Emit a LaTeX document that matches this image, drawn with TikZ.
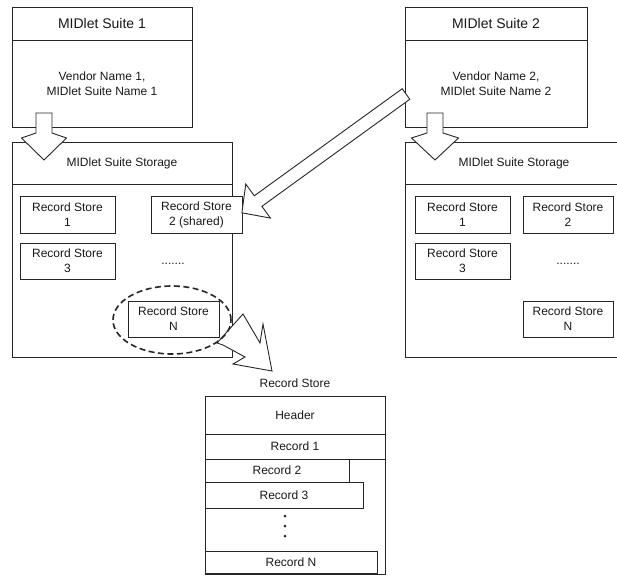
\documentclass[tikz,border=0pt]{standalone}
\usepackage{fontspec}
\setmainfont{Liberation Sans}
\usetikzlibrary{shapes.geometric}

\tikzset{
  box/.style={draw=black!85, line width=0.9pt, fill=white, inner sep=0pt,
    align=center, text=black!90, font=\fontsize{12}{15}\selectfont},
  titlebox/.style={box, font=\fontsize{14}{17}\selectfont},
  storebox/.style={box, minimum height=37pt},
  recbox/.style={box},
  blockarr/.style={draw=black!85, line width=0.9pt, fill=white, line join=miter},
  selring/.style={draw=black!85, ellipse, dash pattern=on 6pt off 3.5pt,
    line width=1.6pt, minimum width=118pt, minimum height=68pt, inner sep=0pt},
  plain/.style={inner sep=0pt, text=black!90, font=\fontsize{12}{15}\selectfont},
}

% tail, angle, length, head length, shaft half width, head half width, indent
\newcommand{\blockarrow}[7]{%
  \begin{scope}[shift={#1}, rotate=#2]
    \draw[blockarr] (0,#5) -- ({#3-#4+#7},#5) -- ({#3-#4},#6) -- (#3,0)
      -- ({#3-#4},-#6) -- ({#3-#4+#7},-#5) -- (0,-#5) -- cycle;
  \end{scope}}

\begin{document}
\begin{tikzpicture}[x=1pt, y=-1pt]
  \useasboundingbox (0,0) rectangle (617,576);
  \clip (0,0) rectangle (617,576);

  % MIDlet suites
  \node[titlebox, minimum width=180pt, minimum height=33pt] (suite1) at (102,23.5) {MIDlet Suite 1};
  \node[box, minimum width=180pt, minimum height=87pt] (name1) at (102,83.5) {Vendor Name 1,\\MIDlet Suite Name 1};
  \node[titlebox, minimum width=182pt, minimum height=33pt] (suite2) at (496,23.5) {MIDlet Suite 2};
  \node[box, minimum width=182pt, minimum height=87pt] (name2) at (496,83.5) {Vendor Name 2,\\MIDlet Suite Name 2};

  % storages
  \node[box, minimum width=220pt, minimum height=42pt] (stor1) at (122,163) {MIDlet Suite Storage};
  \node[box, minimum width=220pt, minimum height=173pt] (area1) at (122,270.5) {};
  \node[box, minimum width=218pt, minimum height=42pt] (stor2) at (514,163) {MIDlet Suite Storage};
  \node[box, minimum width=218pt, minimum height=173pt] (area2) at (514,270.5) {};

  % record stores, suite 1
  \node[storebox, minimum width=95pt] (rsa1) at (67.5,214.5) {Record Store\\1};
  \node[storebox, minimum width=91pt] (rsa2) at (196.5,214.5) {Record Store\\2 (shared)};
  \node[storebox, minimum width=95pt, minimum height=36pt] (rsa3) at (67.5,261) {Record Store\\3};
  \node[plain] (dotsa) at (173,264) {.......};
  \node[storebox, minimum width=91pt, minimum height=36pt] (rsaN) at (173.5,319) {Record Store\\N};

  % record stores, suite 2
  \node[storebox, minimum width=95pt] (rsb1) at (462.5,214.5) {Record Store\\1};
  \node[storebox, minimum width=90pt] (rsb2) at (568,214.5) {Record Store\\2};
  \node[storebox, minimum width=95pt, minimum height=36pt] (rsb3) at (462.5,261) {Record Store\\3};
  \node[plain] (dotsb) at (568,264) {.......};
  \node[storebox, minimum width=90pt, minimum height=36pt] (rsbN) at (568,319) {Record Store\\N};

  % record store layout
  \node[plain] (rslabel) at (295,383) {Record Store};
  \node[recbox, minimum width=180pt, minimum height=178pt] (rsbody) at (295,485) {};
  \node[recbox, minimum width=180pt, minimum height=38pt] (header) at (295,415) {Header};
  \node[recbox, minimum width=180pt, minimum height=25pt] (rec1) at (295,446.5) {Record 1};
  \node[recbox, minimum width=144pt, minimum height=23pt] (rec2) at (277,470.5) {Record 2};
  \node[recbox, minimum width=158pt, minimum height=26pt] (rec3) at (284,495) {Record 3};
  \node[recbox, minimum width=172pt, minimum height=22pt] (recN) at (291,562) {Record N};
  \foreach \y in {516,526,536}
    \fill[black!85] (285,\y) circle (1.5pt);

  % block arrows
  \blockarrow{(44,113)}{-90}{47}{22}{8}{22.5}{-5}
  \blockarrow{(435,113)}{-90}{47}{22}{8}{23.5}{-5}
  \blockarrow{(406,94)}{215.9}{202.6}{20}{6.5}{21}{0}
  \draw[blockarr] (217,343) -- (243,314) -- (260,343) -- (263,324) -- (272,371)
    -- (233,364) -- (245,357) -- (223,345) -- cycle;

  % shared store selection
  \node[selring] (ring) at (172,320) {};
\end{tikzpicture}
\end{document}
